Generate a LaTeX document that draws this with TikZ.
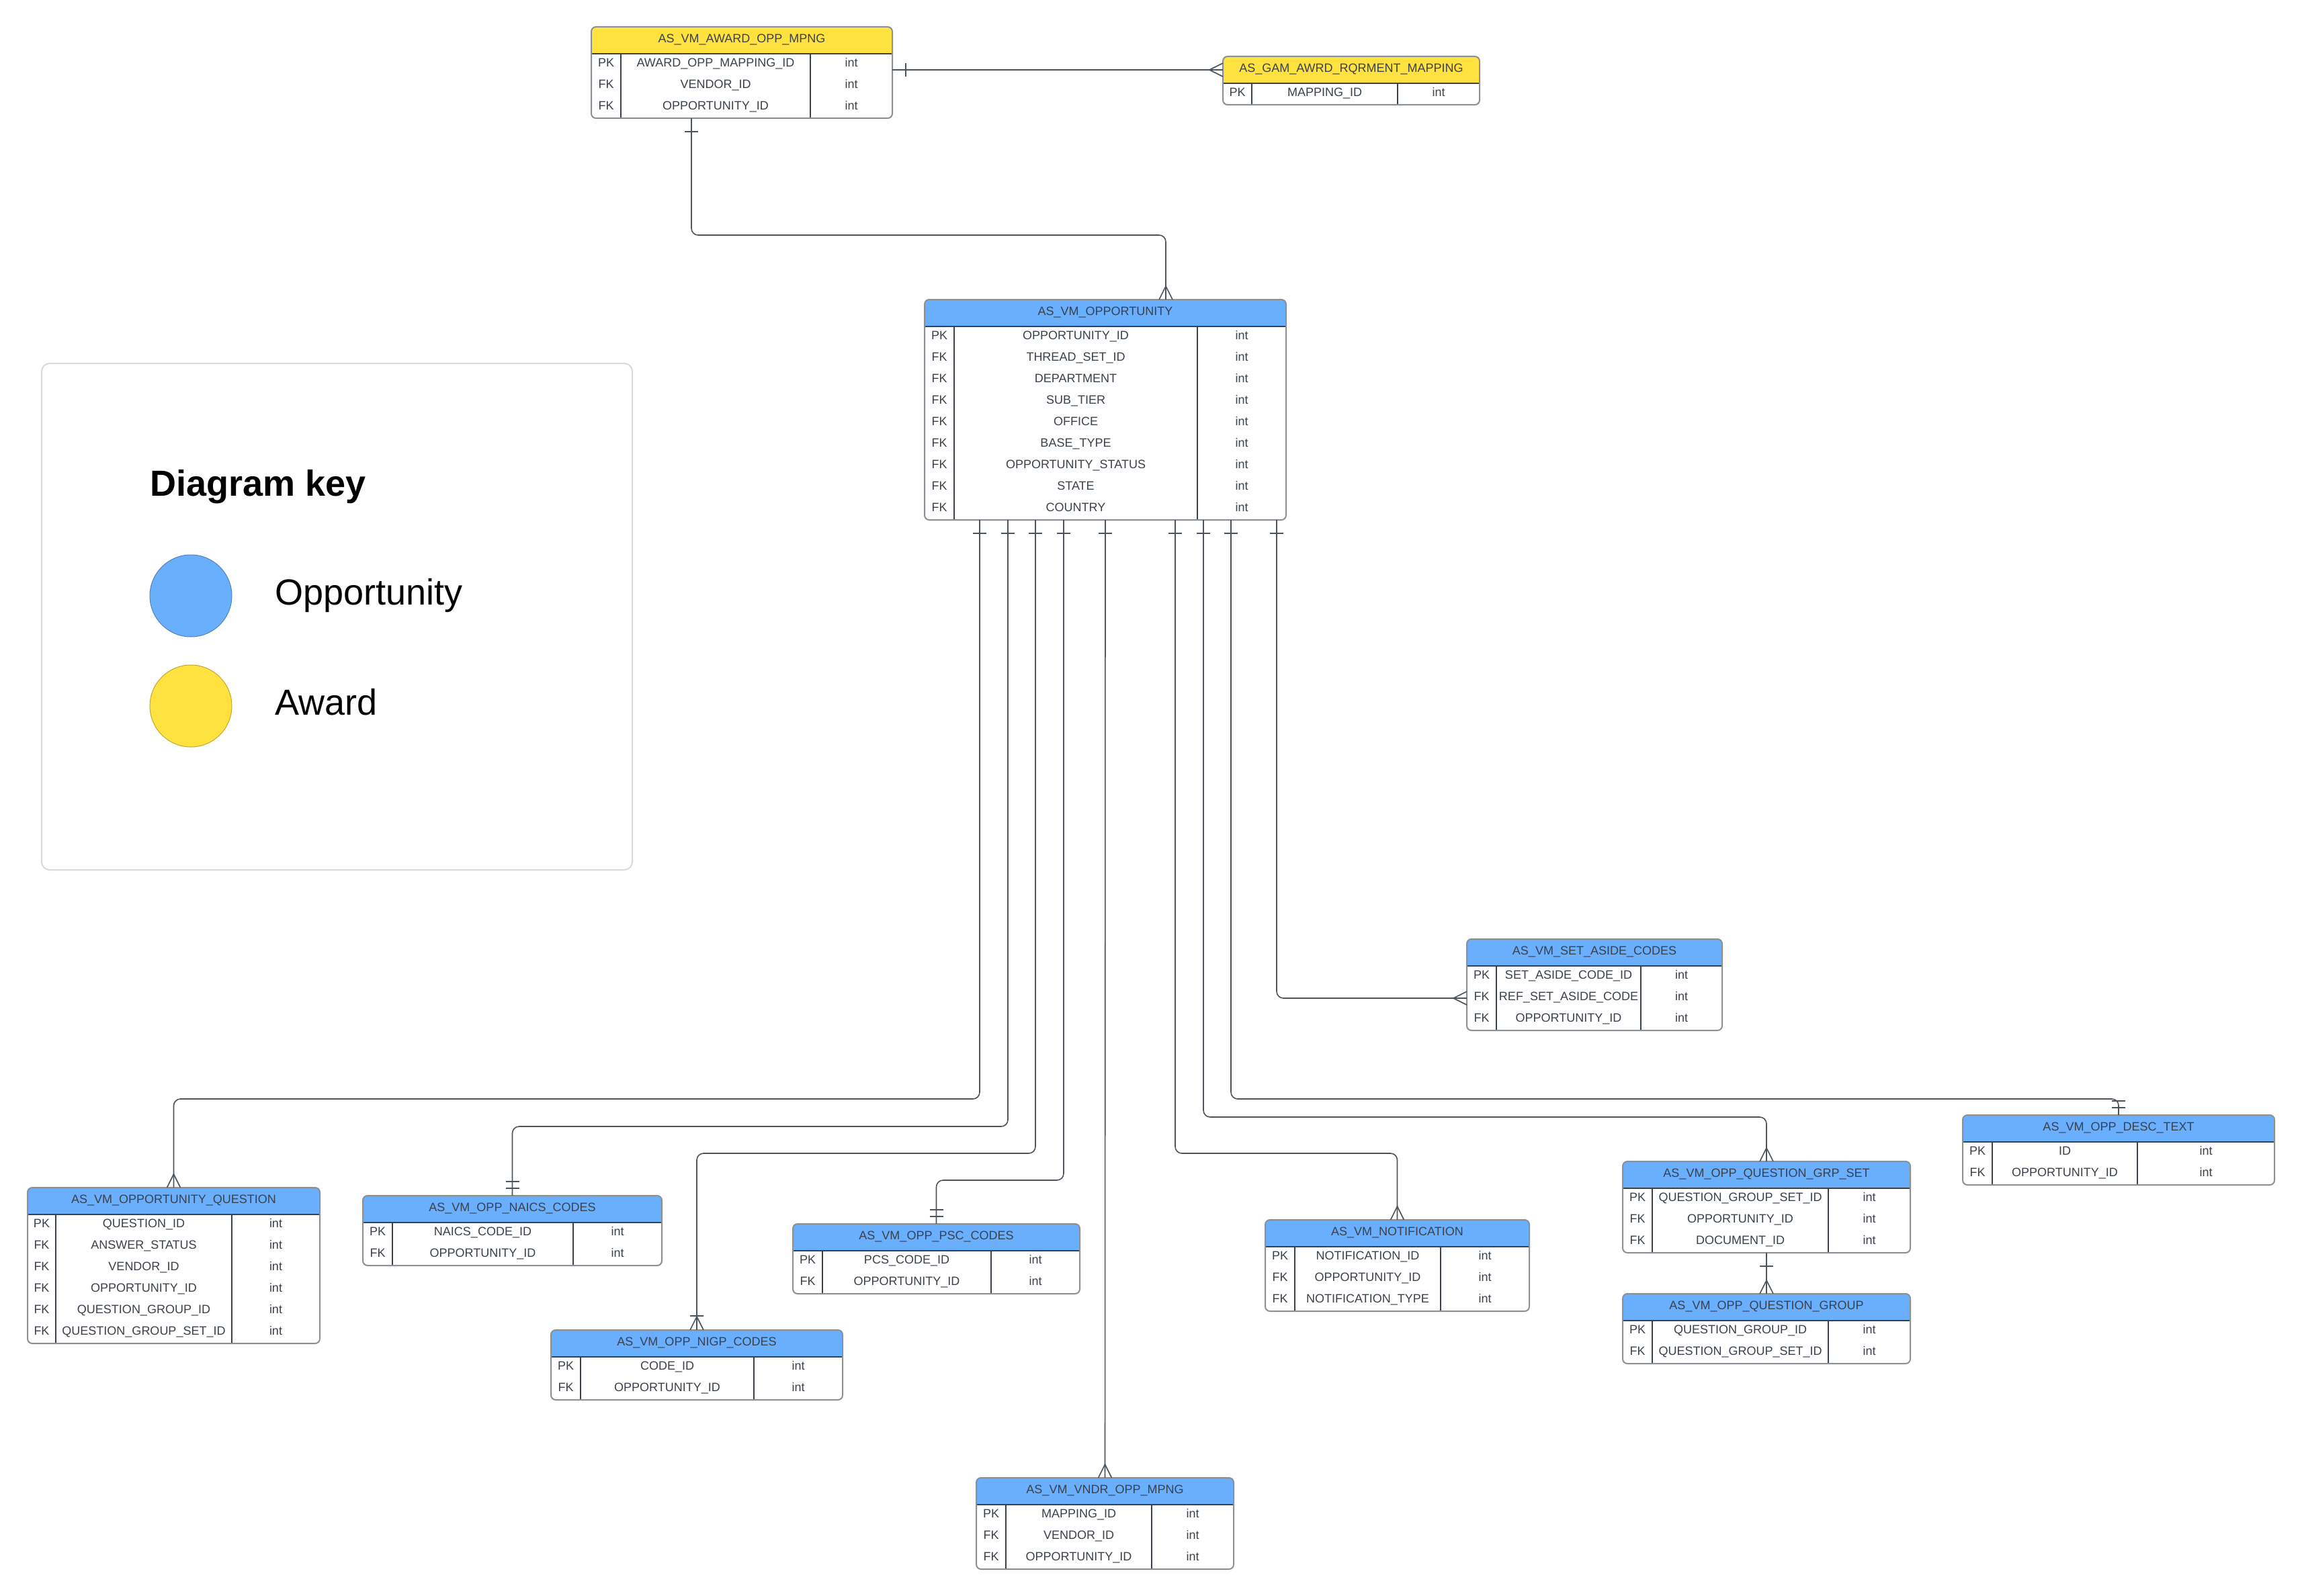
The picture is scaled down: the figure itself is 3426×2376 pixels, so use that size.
\documentclass[tikz,border=0pt]{standalone}
\usepackage{fontspec}
\setmainfont{Liberation Sans}
\usetikzlibrary{positioning}

\definecolor{oppblue}{HTML}{6AAEFE}
\definecolor{awardyellow}{HTML}{FFE23F}
\definecolor{inkgray}{HTML}{3A414A}
\definecolor{edgegray}{HTML}{8B9097}
\definecolor{linegray}{HTML}{4D535B}
\definecolor{keygray}{HTML}{D9DADC}

% table: name, left, top, width, key col, type col, header fill, title, rows
\newcommand{\ertable}[9]{%
  \foreach \pk/\fld [count=\i] in {#9} {\xdef\ernrows{\i}}
  \node[tablebox, minimum width=#4pt, minimum height={40pt+32pt*\ernrows}] (#1) at (#2,#3) {};
  \begin{scope}
    \clip[rounded corners=7pt] (#1.north west) rectangle (#1.south east);
    \fill[#7] (#1.north west) rectangle ([yshift=-40pt]#1.north east);
  \end{scope}
  \draw[divider] ([yshift=-40pt]#1.north west) -- ([yshift=-40pt]#1.north east);
  \draw[divider] ([shift={(#5,40)}]#1.north west) -- ([xshift=#5pt]#1.south west);
  \draw[divider] ([shift={(#6,40)}]#1.north west) -- ([xshift=#6pt]#1.south west);
  \draw[tableedge] (#1.north west) rectangle (#1.south east);
  \node[headtext] (#1-title) at ([yshift=-20pt]#1.north) {#8};
  \foreach \pk/\fld [count=\i] in {#9} {
    \node[celltext] (#1-k\i) at ([shift={({#5/2},{24+32*\i})}]#1.north west) {\pk};
    \node[celltext] (#1-f\i) at ([shift={({(#5+#6)/2},{24+32*\i})}]#1.north west) {\fld};
    \node[celltext] (#1-t\i) at ([shift={({(#6+#4)/2},{24+32*\i})}]#1.north west) {int};
  }
}

\tikzset{
  crowfoot/.pic = {\draw[relline] (-10,0) -- (0,-20) -- (10,0);},
  onebar/.pic   = {\draw[relline] (-10,-20) -- (10,-20);},
  twobar/.pic   = {\draw[relline] (-10,-11) -- (10,-11) (-10,-21) -- (10,-21);},
  crowbar/.pic  = {\draw[relline] (-10,0) -- (0,-20) -- (10,0) (-10,-21) -- (10,-21);}
}

\begin{document}
\begin{tikzpicture}[
  x=1pt, y=-1pt,
  tablebox/.style  = {rectangle, anchor=north west, fill=white, inner sep=0pt, outer sep=0pt},
  tableedge/.style = {draw=edgegray, line width=2pt, rounded corners=7pt},
  divider/.style   = {draw=inkgray, line width=1.6pt},
  headtext/.style  = {font=\fontsize{18}{21}\selectfont, text=inkgray, inner sep=0pt,
                      text height=12.9pt, text depth=6pt},
  celltext/.style  = {headtext},
  relline/.style   = {draw=linegray, line width=1.6pt},
  elbow/.style     = {relline, rounded corners=10pt},
  keybox/.style    = {rectangle, anchor=north west, draw=keygray, line width=2pt,
                      rounded corners=12pt, minimum width=879pt, minimum height=754pt},
  keytitle/.style  = {font=\fontsize{54}{60}\selectfont\bfseries, inner sep=0pt,
                      text height=39pt, text depth=0pt},
  keytext/.style   = {font=\fontsize{54}{60}\selectfont, inner sep=0pt,
                      text height=39pt, text depth=12pt},
  keydot/.style    = {circle, minimum size=122pt, inner sep=0pt, line width=1pt}
]
\fill[white] (0,0) rectangle (3426,2376);
\useasboundingbox (0,0) rectangle (3426,2376);

% ── Legend ───────────────────────────────────────────────────────────────────
\node[keybox] (key) at (61,540) {};
\node[keytitle, anchor=west] (keyhead) at (223,719) {Diagram key};
\node[keydot, fill=oppblue, draw=oppblue!75!black] (dotopp) at (284,887) {};
\node[keydot, fill=awardyellow, draw=awardyellow!75!black] (dotaward) at (284,1051) {};
\node[keytext, right=64pt of dotopp] (txtopp) {Opportunity};
\node[keytext, right=64pt of dotaward] (txtaward) {Award};

% ── Award tables (yellow) ────────────────────────────────────────────────────
\ertable{award}{880}{40}{448}{44}{326}{awardyellow}{AS\_VM\_AWARD\_OPP\_MPNG}
  {PK/AWARD\_OPP\_MAPPING\_ID, FK/VENDOR\_ID, FK/OPPORTUNITY\_ID}
\ertable{gam}{1820}{84}{382}{43}{260}{awardyellow}{AS\_GAM\_AWRD\_RQRMENT\_MAPPING}
  {PK/MAPPING\_ID}

% ── Opportunity tables (blue) ────────────────────────────────────────────────
\ertable{opp}{1376}{446}{538}{44}{406}{oppblue}{AS\_VM\_OPPORTUNITY}
  {PK/OPPORTUNITY\_ID, FK/THREAD\_SET\_ID, FK/DEPARTMENT, FK/SUB\_TIER, FK/OFFICE,
   FK/BASE\_TYPE, FK/OPPORTUNITY\_STATUS, FK/STATE, FK/COUNTRY}
\ertable{sa}{2183}{1398}{380}{44}{259}{oppblue}{AS\_VM\_SET\_ASIDE\_CODES}
  {PK/SET\_ASIDE\_CODE\_ID, FK/REF\_SET\_ASIDE\_CODE, FK/OPPORTUNITY\_ID}
\ertable{desc}{2921}{1660}{464}{44}{260}{oppblue}{AS\_VM\_OPP\_DESC\_TEXT}
  {PK/ID, FK/OPPORTUNITY\_ID}
\ertable{grpset}{2415}{1729}{428}{44}{306}{oppblue}{AS\_VM\_OPP\_QUESTION\_GRP\_SET}
  {PK/QUESTION\_GROUP\_SET\_ID, FK/OPPORTUNITY\_ID, FK/DOCUMENT\_ID}
\ertable{qgroup}{2415}{1926}{428}{44}{306}{oppblue}{AS\_VM\_OPP\_QUESTION\_GROUP}
  {PK/QUESTION\_GROUP\_ID, FK/QUESTION\_GROUP\_SET\_ID}
\ertable{notif}{1883}{1816}{393}{44}{261}{oppblue}{AS\_VM\_NOTIFICATION}
  {PK/NOTIFICATION\_ID, FK/OPPORTUNITY\_ID, FK/NOTIFICATION\_TYPE}
\ertable{vndr}{1453}{2200}{383}{44}{261}{oppblue}{AS\_VM\_VNDR\_OPP\_MPNG}
  {PK/MAPPING\_ID, FK/VENDOR\_ID, FK/OPPORTUNITY\_ID}
\ertable{nigp}{820}{1980}{434}{44}{302}{oppblue}{AS\_VM\_OPP\_NIGP\_CODES}
  {PK/CODE\_ID, FK/OPPORTUNITY\_ID}
\ertable{psc}{1180}{1822}{427}{44}{295}{oppblue}{AS\_VM\_OPP\_PSC\_CODES}
  {PK/PCS\_CODE\_ID, FK/OPPORTUNITY\_ID}
\ertable{naics}{540}{1780}{445}{44}{313}{oppblue}{AS\_VM\_OPP\_NAICS\_CODES}
  {PK/NAICS\_CODE\_ID, FK/OPPORTUNITY\_ID}
\ertable{oq}{41}{1768}{435}{42}{304}{oppblue}{AS\_VM\_OPPORTUNITY\_QUESTION}
  {PK/QUESTION\_ID, FK/ANSWER\_STATUS, FK/VENDOR\_ID, FK/OPPORTUNITY\_ID,
   FK/QUESTION\_GROUP\_ID, FK/QUESTION\_GROUP\_SET\_ID}

% ── Award relations ──────────────────────────────────────────────────────────
\draw[relline] ([yshift=-64pt]award.north east) -- ([yshift=-20pt]gam.north west);
\pic[rotate=-90] at ([yshift=-64pt]award.north east) {onebar};
\pic[rotate=90] at ([yshift=-20pt]gam.north west) {crowfoot};

\draw[elbow] ([xshift=149pt]award.south west) -- ++(0,174) -| ([xshift=359pt]opp.north west);
\pic[rotate=180] at ([xshift=149pt]award.south west) {onebar};
\pic at ([xshift=359pt]opp.north west) {crowfoot};

% ── Opportunity relations ────────────────────────────────────────────────────
\draw[elbow] ([xshift=82pt]opp.south west) -- ++(0,862) -| (oq.north);
\draw[elbow] ([xshift=124pt]opp.south west) -- ++(0,903) -| (naics.north);
\draw[elbow] ([xshift=165pt]opp.south west) -- ++(0,943) -| (nigp.north);
\draw[elbow] ([xshift=207pt]opp.south west) -- ++(0,983) -| (psc.north);
\draw[relline] (opp.south) -- (vndr.north);
\draw[elbow] ([xshift=373pt]opp.south west) -- ++(0,943) -| (notif.north);
\draw[elbow] ([xshift=415pt]opp.south west) -- ++(0,889) -| (grpset.north);
\draw[elbow] ([xshift=456pt]opp.south west) -- ++(0,862) -| (desc.north);
\draw[elbow] ([xshift=524pt]opp.south west) |- ([yshift=-20pt]sa.west);

\foreach \dx in {82,124,165,207,269,373,415,456,524}
  \pic[rotate=180] at ([xshift=\dx pt]opp.south west) {onebar};

\pic at (oq.north) {crowfoot};
\pic at (naics.north) {twobar};
\pic at (nigp.north) {crowbar};
\pic at (psc.north) {twobar};
\pic at (vndr.north) {crowfoot};
\pic at (notif.north) {crowfoot};
\pic at (grpset.north) {crowfoot};
\pic at (desc.north) {twobar};
\pic[rotate=90] at ([yshift=-20pt]sa.west) {crowfoot};

% question group set -> question group
\draw[relline] (grpset.south) -- (qgroup.north);
\pic[rotate=180] at (grpset.south) {onebar};
\pic at (qgroup.north) {crowfoot};

\end{tikzpicture}
\end{document}
